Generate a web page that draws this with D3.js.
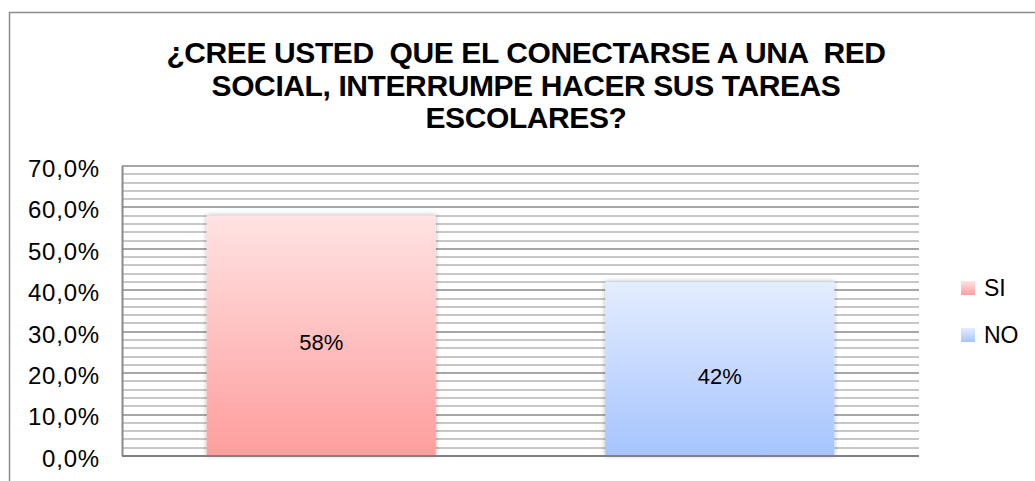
<!DOCTYPE html>
<html>
<head>
<meta charset="utf-8">
<script src="https://cdn.jsdelivr.net/npm/d3@7"></script>
<style>
  html, body { margin: 0; padding: 0; background: #fff; }
  svg { display: block; font-family: "Liberation Sans", Arial, sans-serif; }
</style>
</head>
<body>
<div id="chart"></div>
<script>
// Datos del gráfico
const categorias = ['SI', 'NO'];
const valores = [0.58, 0.42];
const etiquetas = ['58%', '42%'];
const ticksY = [0, 0.1, 0.2, 0.3, 0.4, 0.5, 0.6, 0.7];
const lineasTitulo = [
  '¿CREE USTED  QUE EL CONECTARSE A UNA  RED',
  'SOCIAL, INTERRUMPE HACER SUS TAREAS',
  'ESCOLARES?'
];

const width = 1035;
const height = 481;
const margin = { top: 165.5, right: 116, bottom: 25.5, left: 122 };
const innerW = width - margin.left - margin.right;
const innerH = height - margin.top - margin.bottom;

const svg = d3.select('#chart')
  .append('svg')
  .attr('width', width)
  .attr('height', height);

// Degradados de las barras
const defs = svg.append('defs');
const colores = {
  SI: ['#ffe3e3', '#ff9d9d'],
  NO: ['#e4edff', '#a6c4ff']
};
categorias.forEach((c) => {
  const g = defs.append('linearGradient')
    .attr('id', 'grad-' + c)
    .attr('x1', 0).attr('y1', 0).attr('x2', 0).attr('y2', 1);
  g.append('stop').attr('offset', '0%').attr('stop-color', colores[c][0]);
  g.append('stop').attr('offset', '100%').attr('stop-color', colores[c][1]);
});
const sombra = defs.append('filter').attr('id', 'sombra')
  .attr('x', '-10%').attr('y', '-10%').attr('width', '120%').attr('height', '120%');
sombra.append('feGaussianBlur').attr('in', 'SourceAlpha').attr('stdDeviation', 2.5).attr('result', 'blur');
sombra.append('feComponentTransfer').attr('in', 'blur').attr('result', 'b2')
  .append('feFuncA').attr('type', 'linear').attr('slope', 0.3);
const merge = sombra.append('feMerge');
merge.append('feMergeNode').attr('in', 'b2');
merge.append('feMergeNode').attr('in', 'SourceGraphic');

// Borde exterior del área del gráfico
svg.append('path')
  .attr('d', `M9.5,${height} V12.5 H${width}`)
  .attr('fill', 'none')
  .attr('stroke', '#8c8c8c')
  .attr('stroke-width', 1.5);

// Título (se conservan los espacios dobles del original)
svg.append('text')
  .attr('x', 526)
  .attr('y', 63)
  .attr('text-anchor', 'middle')
  .style('white-space', 'pre')
  .style('font-weight', 'bold')
  .style('font-size', '30px')
  .style('letter-spacing', '-0.4px')
  .style('fill', '#000')
  .selectAll('tspan')
  .data(lineasTitulo)
  .enter()
  .append('tspan')
  .attr('x', 526)
  .attr('dy', (d, i) => (i === 0 ? 0 : 32.5))
  .text((d) => d);

const g = svg.append('g')
  .attr('transform', `translate(${margin.left},${margin.top})`);

const x = d3.scaleBand()
  .domain(categorias)
  .range([0, innerW])
  .paddingInner(0.425)
  .paddingOuter(0.2125);

const y = d3.scaleLinear()
  .domain([0, 0.7])
  .range([innerH, 0]);

// Líneas de división secundarias (cada 2%)
const menores = d3.range(0, 71, 2).filter((v) => v % 10 !== 0).map((v) => v / 100);
g.append('g')
  .selectAll('line')
  .data(menores)
  .enter()
  .append('line')
  .attr('x1', 0).attr('x2', innerW)
  .attr('y1', (d) => Math.round(y(d)) + 0.5)
  .attr('y2', (d) => Math.round(y(d)) + 0.5)
  .attr('stroke', '#b4b4b4')
  .attr('stroke-width', 1.6);

// Líneas principales
g.append('g')
  .selectAll('line')
  .data(ticksY)
  .enter()
  .append('line')
  .attr('x1', 0).attr('x2', innerW)
  .attr('y1', (d) => Math.round(y(d)) + 0.5)
  .attr('y2', (d) => Math.round(y(d)) + 0.5)
  .attr('stroke', '#8a8a8a')
  .attr('stroke-width', 1.6);

// Eje vertical
const ejeY = g.append('g')
  .call(d3.axisLeft(y)
    .tickValues(ticksY)
    .tickSize(0)
    .tickPadding(22)
    .tickFormat((d) => (d * 100).toFixed(1).replace('.', ',') + '%'));
ejeY.select('.domain')
  .attr('stroke', '#8a8a8a')
  .attr('stroke-width', 2);
ejeY.selectAll('text')
  .attr('dy', '0.45em')
  .style('font-family', '"Liberation Sans", Arial, sans-serif')
  .style('font-size', '24px')
  .style('letter-spacing', '0.8px')
  .style('fill', '#000');

// Barras
g.append('g')
  .selectAll('rect')
  .data(categorias)
  .enter()
  .append('rect')
  .attr('x', (d) => x(d))
  .attr('y', (d, i) => y(valores[i]))
  .attr('width', x.bandwidth())
  .attr('height', (d, i) => innerH - y(valores[i]))
  .attr('fill', (d) => `url(#grad-${d})`)
  .attr('filter', 'url(#sombra)');

// Línea base
g.append('line')
  .attr('x1', 0).attr('x2', innerW)
  .attr('y1', Math.round(y(0)) + 0.5)
  .attr('y2', Math.round(y(0)) + 0.5)
  .attr('stroke', '#808080')
  .attr('stroke-width', 2);

// Etiquetas de datos
g.append('g')
  .selectAll('text')
  .data(categorias)
  .enter()
  .append('text')
  .attr('x', (d) => x(d) + x.bandwidth() / 2)
  .attr('y', (d, i) => (y(valores[i]) + innerH) / 2 + 15)
  .attr('text-anchor', 'middle')
  .style('font-size', '22px')
  .style('fill', '#000')
  .text((d, i) => etiquetas[i]);

// Leyenda
const leyenda = svg.append('g')
  .attr('transform', 'translate(961,281)');
const item = leyenda.selectAll('g')
  .data(categorias)
  .enter()
  .append('g')
  .attr('transform', (d, i) => `translate(0,${i * 47})`);
item.append('rect')
  .attr('width', 14)
  .attr('height', 14)
  .attr('fill', (d) => `url(#grad-${d})`);
item.append('text')
  .attr('x', 23)
  .attr('y', 7)
  .attr('dy', '0.36em')
  .style('font-size', '23px')
  .style('fill', '#000')
  .text((d) => d);
</script>
</body>
</html>
